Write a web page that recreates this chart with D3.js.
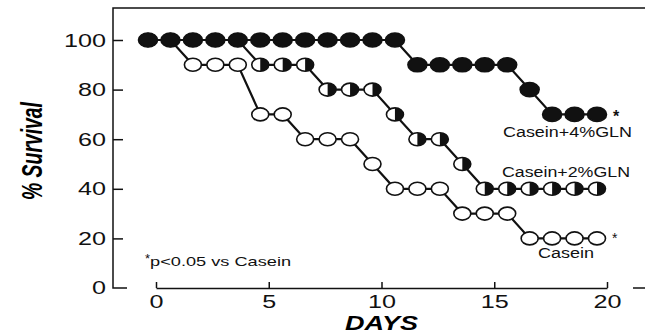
<!DOCTYPE html>
<html>
<head>
<meta charset="utf-8">
<script src="https://cdn.jsdelivr.net/npm/d3@7"></script>
<style>
  body { margin: 0; background: #fff; }
  svg { display: block; font-family: "Liberation Sans", Arial, sans-serif; }
</style>
</head>
<body>
<div id="chart"></div>
<script>
// survival data, % alive per day
var days = [0, 1, 2, 3, 4, 5, 6, 7, 8, 9, 10, 11, 12, 13, 14, 15, 16, 17, 18, 19, 20];
var casein = [100, 100, 90, 90, 90, 70, 70, 60, 60, 60, 50, 40, 40, 40, 30, 30, 30, 20, 20, 20, 20];
var gln2 = [100, 100, 100, 100, 100, 90, 90, 90, 80, 80, 80, 70, 60, 60, 50, 40, 40, 40, 40, 40, 40];
var gln4 = [100, 100, 100, 100, 100, 100, 100, 100, 100, 100, 100, 100, 90, 90, 90, 90, 90, 80, 70, 70, 70];
var yTicks = [0, 20, 40, 60, 80, 100];
var xTicks = [0, 5, 10, 15, 20];

var width = 645, height = 333;
var frameTop = 8, frameLeft = 113;

var svg = d3.select("#chart").append("svg")
  .attr("width", width)
  .attr("height", height);

var x = d3.scaleLinear().domain([0, 20]).range([156, 607]);
// markers sit a little left of the axis ticks in the original
var xd = d3.scaleLinear().domain([0, 20]).range([148, 597]);
var y = d3.scaleLinear().domain([0, 100]).range([288, 40]);

// frame: left axis + top line
svg.append("path")
  .attr("d", "M" + (frameLeft + 14) + "," + y(0) + "H" + frameLeft + "V" + frameTop + "H" + width)
  .attr("fill", "none").attr("stroke", "#111").attr("stroke-width", 1.5);
svg.append("line")
  .attr("x1", 633).attr("x2", width).attr("y1", y(0)).attr("y2", y(0))
  .attr("stroke", "#111").attr("stroke-width", 1.5);

// y axis
var gy = svg.append("g")
  .attr("transform", "translate(" + frameLeft + ",0)")
  .call(d3.axisLeft(y).tickValues(yTicks.filter(function (d) { return d > 0; }))
    .tickSizeInner(-10).tickSizeOuter(0).tickPadding(7));
gy.select(".domain").remove();
svg.append("text")
  .attr("x", frameLeft - 7).attr("y", y(0)).attr("dy", "0.32em")
  .attr("text-anchor", "end")
  .style("font-size", "19px").attr("fill", "#111")
  .attr("textLength", 14).attr("lengthAdjust", "spacingAndGlyphs")
  .text("0");

// x axis
var gx = svg.append("g")
  .attr("transform", "translate(0," + y(0) + ")")
  .call(d3.axisBottom(x).tickValues(xTicks).tickSizeInner(-6).tickSizeOuter(0).tickPadding(7));

[gx, gy].forEach(function (g) {
  g.selectAll("line").attr("stroke", "#111").attr("stroke-width", 1.5);
  g.select(".domain").attr("stroke", "#111").attr("stroke-width", 1.5);
  g.selectAll("text")
    .style("font-size", "19px")
    .attr("fill", "#111")
    .attr("textLength", function (d) { return String(d).length * 14; })
    .attr("lengthAdjust", "spacingAndGlyphs");
});

// axis titles
svg.append("text")
  .attr("transform", "translate(42,151) scale(1.45,1) rotate(-90)")
  .attr("text-anchor", "middle")
  .style("font-size", "20px").style("font-weight", "bold").style("font-style", "italic")
  .attr("textLength", 98).attr("lengthAdjust", "spacingAndGlyphs")
  .text("% Survival");
svg.append("text")
  .attr("x", x(10)).attr("y", 330)
  .attr("text-anchor", "middle")
  .style("font-size", "20px").style("font-weight", "bold").style("font-style", "italic")
  .attr("textLength", 73).attr("lengthAdjust", "spacingAndGlyphs")
  .text("DAYS");

// lines + markers
var line = d3.line()
  .x(function (d) { return xd(d.day); })
  .y(function (d) { return y(d.v); });

function series(vals) {
  return days.map(function (d, i) { return { day: d, v: vals[i] }; });
}

var groups = [
  { name: "casein", data: series(casein), kind: "open" },
  { name: "gln2", data: series(gln2), kind: "half" },
  { name: "gln4", data: series(gln4), kind: "filled" }
];

var rx = 8.5, ry = 6.5;

groups.forEach(function (s) {
  var g = svg.append("g");
  g.append("path")
    .attr("d", line(s.data))
    .attr("fill", "none").attr("stroke", "#111").attr("stroke-width", 2.2);

  g.selectAll("ellipse")
    .data(s.data)
    .enter()
    .append("ellipse")
    .attr("cx", function (d) { return xd(d.day); })
    .attr("cy", function (d) { return y(d.v); })
    .attr("rx", s.kind == "filled" ? 9.5 : rx)
    .attr("ry", s.kind == "filled" ? 7 : ry)
    .attr("fill", s.kind == "filled" ? "#111" : "#fff")
    .attr("stroke", "#111").attr("stroke-width", 1.6);

  if (s.kind == "half") {
    g.selectAll(".half")
      .data(s.data)
      .enter()
      .append("path")
      .attr("class", "half")
      .attr("d", function (d) {
        var cx = xd(d.day), cy = y(d.v);
        return "M" + cx + "," + (cy - ry) + "A" + rx + "," + ry + " 0 0 1 " + cx + "," + (cy + ry) + "Z";
      })
      .attr("fill", "#111");
  }
});

// labels
function label(txt, px, py, len, size) {
  return svg.append("text")
    .attr("x", px).attr("y", py)
    .style("font-size", (size || 14) + "px").attr("fill", "#111")
    .attr("textLength", len).attr("lengthAdjust", "spacingAndGlyphs")
    .text(txt);
}
label("Casein+4%GLN", 503, 137, 129);
label("Casein+2%GLN", 502, 177, 128);
label("Casein", 538, 258, 56);
svg.append("text").attr("x", 613).attr("y", 122)
  .style("font-size", "16px").style("font-weight", "bold").attr("fill", "#111").text("*");
svg.append("text").attr("x", 612).attr("y", 243)
  .style("font-size", "14px").attr("fill", "#111").text("*");

var note = svg.append("text")
  .attr("x", 145).attr("y", 266)
  .style("font-size", "13px").attr("fill", "#111");
note.append("tspan").attr("dy", -3).text("*");
note.append("tspan").attr("dy", 3).attr("textLength", 141).attr("lengthAdjust", "spacingAndGlyphs")
  .text("p<0.05 vs Casein");
</script>
</body>
</html>
